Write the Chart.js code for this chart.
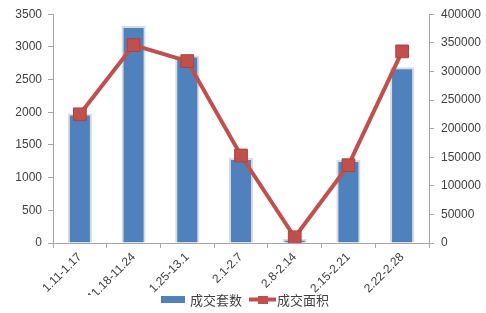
<!DOCTYPE html>
<html>
<head>
<meta charset="utf-8">
<script src="https://cdn.jsdelivr.net/npm/chart.js@4"></script>
<style>
  html, body { margin: 0; padding: 0; background: #fff; }
  #wrap { width: 486px; height: 313px; position: relative; }
</style>
</head>
<body>
<div id="wrap"><canvas id="c"></canvas></div>
<script>
const weeks = ["1.11-1.17", "11.18-11.24", "1.25-13.1", "2.1-2.7", "2.8-2.14", "2.15-2.21", "2.22-2.28"];
const dealUnits = [1980, 3320, 2870, 1300, 60, 1270, 2690];   // 成交套数
const dealArea = [225000, 346000, 318000, 153000, 10000, 136000, 335000]; // 成交面积
const leftTicks = [0, 500, 1000, 1500, 2000, 2500, 3000, 3500];
const rightTicks = [0, 50000, 100000, 150000, 200000, 250000, 300000, 350000, 400000];

(function () {
    "use strict";

    const BLUE = "#4F81BD";
    const RED = "#C0504D";
    const AXIS = "#a6a6a6";
    const TEXT = "#404040";
    const FONT = "'Liberation Sans', 'Noto Sans CJK SC', sans-serif";

    // excel style legend: box for bars, line + marker for the line series
    const bottomLegend = {
        id: "bottomLegend",
        afterDraw(chart) {
            const ctx = chart.ctx;
            const ds = chart.data.datasets;
            ctx.save();
            ctx.font = "13px 'Noto Sans CJK SC', sans-serif";
            ctx.textBaseline = "middle";
            ctx.fillStyle = TEXT;
            const y = 299;
            const w0 = ctx.measureText(ds[0].label).width;
            const w1 = ctx.measureText(ds[1].label).width;
            const total = 24 + 5 + w0 + 7 + 27 + 1 + w1;
            let x = Math.round((chart.width - total) / 2) + 2;
            ctx.fillStyle = BLUE;
            ctx.fillRect(x, y - 3, 24, 7);
            x += 29;
            ctx.fillStyle = TEXT;
            ctx.fillText(ds[0].label, x, y + 1);
            x += w0 + 7;
            ctx.strokeStyle = RED;
            ctx.lineWidth = 4;
            ctx.beginPath();
            ctx.moveTo(x, y + 0.5);
            ctx.lineTo(x + 27, y + 0.5);
            ctx.stroke();
            ctx.fillStyle = RED;
            ctx.fillRect(x + 9, y - 3, 10, 8);
            x += 28;
            ctx.fillStyle = TEXT;
            ctx.fillText(ds[1].label, x, y + 1);
            ctx.restore();
        }
    };

    const plain = (v) => String(v);

    const ctx = document.getElementById("c").getContext("2d");
    new Chart(ctx, {
        type: "bar",
        data: {
            labels: weeks,
            datasets: [
                {
                    type: "bar",
                    label: "成交套数",
                    data: dealUnits,
                    yAxisID: "y",
                    backgroundColor: BLUE,
                    borderColor: "rgba(212,215,220,0.9)",
                    borderWidth: 2,
                    borderSkipped: "bottom",
                    categoryPercentage: 1,
                    barPercentage: 0.45,
                    order: 1
                },
                {
                    type: "line",
                    label: "成交面积",
                    data: dealArea,
                    yAxisID: "y1",
                    borderColor: RED,
                    backgroundColor: RED,
                    borderWidth: 4,
                    pointStyle: "rect",
                    pointRadius: 9,
                    pointBorderWidth: 1,
                    pointBorderColor: "#b3413e",
                    pointBackgroundColor: RED,
                    tension: 0,
                    order: 0
                }
            ]
        },
        options: {
            responsive: true,
            maintainAspectRatio: false,
            animation: false,
            layout: { padding: { top: 7, bottom: 18, left: 0, right: 0 } },
            plugins: {
                legend: { display: false },
                tooltip: { enabled: false }
            },
            scales: {
                x: {
                    grid: { display: true, drawOnChartArea: false, tickLength: 5, color: AXIS, offset: true },
                    border: { color: AXIS },
                    ticks: {
                        color: TEXT,
                        font: { family: FONT, size: 12 },
                        minRotation: 45,
                        maxRotation: 45,
                        padding: 2,
                        autoSkip: false
                    },
                    afterFit(scale) { scale.height = 52; }
                },
                y: {
                    position: "left",
                    min: 0,
                    max: 3500,
                    afterBuildTicks(scale) { scale.ticks = leftTicks.map(v => ({ value: v })); },
                    grid: { display: true, drawOnChartArea: false, tickLength: 5, color: AXIS },
                    border: { color: AXIS },
                    ticks: { color: TEXT, font: { family: FONT, size: 12 }, padding: 6, callback: plain },
                    afterFit(scale) { scale.width = 53; }
                },
                y1: {
                    position: "right",
                    min: 0,
                    max: 400000,
                    afterBuildTicks(scale) { scale.ticks = rightTicks.map(v => ({ value: v })); },
                    grid: { display: true, drawOnChartArea: false, tickLength: 5, color: AXIS },
                    border: { color: AXIS },
                    ticks: { color: TEXT, font: { family: FONT, size: 12 }, padding: 7, callback: plain },
                    afterFit(scale) { scale.width = 57; }
                }
            }
        },
        plugins: [bottomLegend]
    });
})();
</script>
</body>
</html>
